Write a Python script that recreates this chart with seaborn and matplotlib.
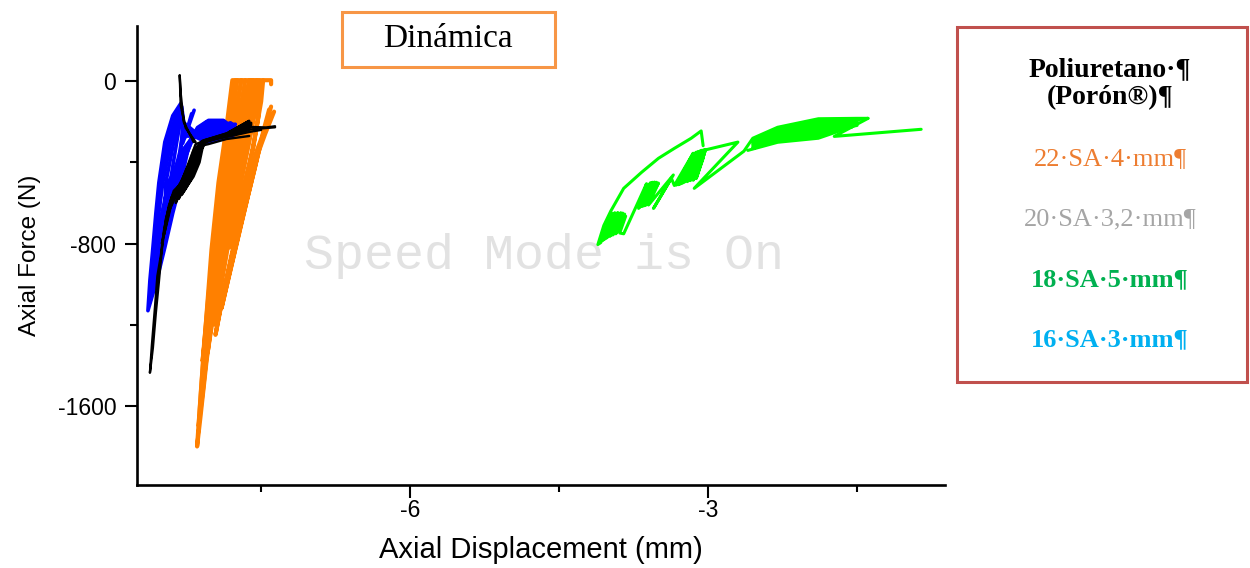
import matplotlib
matplotlib.use("Agg")
import matplotlib.pyplot as plt
from matplotlib.patches import Rectangle
import pandas as pd
import seaborn as sns

# ---------------- data ----------------
# each series = list of traced load/unload paths, each path = list of (displacement mm, force N)
series_labels = ["22·SA·4·mm¶", "20·SA·3,2·mm¶", "18·SA·5·mm¶", "16·SA·3·mm¶"]

orange_paths = [
    [(-7.40, -15), (-7.40, 5), (-7.79, 5), (-7.85, -230), (-7.93, -500), (-8.00, -830), (-8.05, -1150), (-8.10, -1480),
     (-8.145, -1800), (-8.11, -1650), (-8.05, -1380), (-7.97, -1080), (-7.88, -780), (-7.78, -500), (-7.68, -250), (-7.62, -60), (-7.60, 5)],
    [(-7.74, 5), (-7.83, -280), (-7.92, -580), (-8.00, -920), (-8.07, -1280), (-8.13, -1700), (-8.08, -1500), (-8.02, -1200),
     (-7.94, -900), (-7.85, -600), (-7.75, -320), (-7.66, -100), (-7.62, 5)],
    [(-7.70, 5), (-7.80, -260), (-7.89, -560), (-7.97, -880), (-8.04, -1200), (-8.10, -1580), (-8.05, -1360), (-7.98, -1060),
     (-7.90, -760), (-7.80, -460), (-7.70, -200), (-7.64, -40), (-7.60, 5)],
    [(-7.66, 5), (-7.75, -250), (-7.85, -560), (-7.94, -880), (-8.02, -1220), (-8.07, -1440), (-8.01, -1220), (-7.93, -920),
     (-7.84, -640), (-7.73, -350), (-7.64, -130), (-7.58, 5)],
    [(-7.62, 5), (-7.70, -220), (-7.80, -500), (-7.90, -820), (-7.99, -1150), (-8.04, -1340), (-7.98, -1150), (-7.89, -860),
     (-7.79, -580), (-7.68, -320), (-7.60, -120), (-7.55, 5)],
    [(-7.58, 5), (-7.60, -150), (-7.66, -330), (-7.76, -580), (-7.87, -880), (-7.97, -1200), (-7.92, -1060), (-7.83, -800),
     (-7.72, -540), (-7.62, -300), (-7.56, -150), (-7.54, 5)],
    [(-7.37, -150), (-7.46, -260), (-7.58, -420), (-7.72, -700), (-7.86, -1000), (-7.96, -1250), (-7.91, -1120), (-7.80, -860),
     (-7.67, -580), (-7.55, -350), (-7.45, -220), (-7.39, -160)],
    [(-7.40, -125), (-7.50, -300), (-7.63, -560), (-7.77, -850), (-7.90, -1120), (-7.82, -950), (-7.70, -700), (-7.57, -440),
     (-7.48, -250), (-7.42, -140)],
    [(-7.52, 5), (-7.53, -180), (-7.58, -330), (-7.70, -560), (-7.82, -820), (-7.74, -680), (-7.62, -420), (-7.55, -240),
     (-7.50, -100), (-7.48, 5)],
    [(-7.76, 5), (-7.84, -300), (-7.95, -700), (-8.03, -1050), (-8.09, -1380), (-8.04, -1150), (-7.96, -850), (-7.87, -550),
     (-7.79, -300), (-7.72, -60), (-7.70, 5)],
]

blue_paths = [
    [(-7.73, -250), (-7.88, -193), (-8.03, -193), (-8.14, -228), (-8.22, -300), (-8.31, -500), (-8.39, -650), (-8.47, -820),
     (-8.55, -980), (-8.64, -1131), (-8.62, -980), (-8.59, -820), (-8.56, -650), (-8.53, -500), (-8.47, -300), (-8.39, -170),
     (-8.31, -110), (-8.27, -250), (-8.05, -300), (-7.83, -278), (-7.73, -252)],
    [(-7.75, -235), (-7.90, -200), (-8.05, -200), (-8.15, -240), (-8.24, -320), (-8.34, -500), (-8.42, -650), (-8.50, -820),
     (-8.57, -980), (-8.62, -1090), (-8.60, -980), (-8.575, -820), (-8.545, -650), (-8.51, -500), (-8.44, -300), (-8.36, -170),
     (-8.30, -125), (-8.27, -240), (-8.05, -292), (-7.85, -270), (-7.75, -245)],
    [(-7.76, -225), (-7.92, -208), (-8.07, -210), (-8.16, -250), (-8.26, -330), (-8.36, -500), (-8.45, -650), (-8.53, -820),
     (-8.60, -1040), (-8.58, -930), (-8.56, -820), (-8.53, -650), (-8.49, -500), (-8.41, -300), (-8.34, -170), (-8.30, -140),
     (-8.28, -230), (-8.07, -285), (-7.87, -262), (-7.76, -238)],
    [(-7.78, -218), (-7.93, -215), (-8.09, -220), (-8.17, -262), (-8.29, -340), (-8.43, -500), (-8.50, -650), (-8.56, -820),
     (-8.59, -980), (-8.57, -880), (-8.52, -760), (-8.47, -650), (-8.46, -500), (-8.38, -300), (-8.32, -170), (-8.28, -260),
     (-8.09, -278), (-7.88, -255), (-7.78, -232)],
    [(-7.79, -212), (-7.95, -222), (-8.10, -230), (-8.18, -275), (-8.28, -350), (-8.38, -500), (-8.46, -650), (-8.52, -800),
     (-8.57, -930), (-8.54, -840), (-8.50, -720), (-8.44, -600), (-8.41, -480), (-8.35, -300), (-8.31, -190), (-8.27, -270),
     (-8.10, -272), (-7.90, -248), (-7.79, -228)],
    [(-7.80, -208), (-7.96, -230), (-8.12, -240), (-8.19, -285), (-8.27, -380), (-8.35, -520), (-8.43, -660), (-8.50, -780),
     (-8.54, -860), (-8.51, -760), (-8.46, -640), (-8.40, -520), (-8.33, -420), (-8.30, -300), (-8.29, -200), (-8.13, -265),
     (-7.92, -242), (-7.80, -222)],
    [(-7.81, -205), (-7.98, -238), (-8.13, -250), (-8.20, -295), (-8.30, -420), (-8.40, -560), (-8.48, -700), (-8.45, -620),
     (-8.40, -540), (-8.37, -450), (-8.32, -350), (-8.28, -220), (-8.15, -258), (-7.95, -236), (-7.82, -218)],
    [(-8.14, -232), (-7.76, -212), (-8.12, -250), (-7.74, -232), (-8.10, -268), (-7.74, -250), (-8.08, -286), (-7.78, -262),
     (-8.05, -300), (-7.84, -275)],
    [(-8.175, -143), (-8.29, -306)],
    [(-8.20, -160), (-8.27, -280)],
]

black_paths = [
    [(-7.36, -227), (-7.62, -238), (-7.88, -265), (-8.08, -292), (-8.20, -380), (-8.31, -500), (-8.40, -570), (-8.46, -680),
     (-8.50, -830), (-8.53, -990), (-8.56, -1140), (-8.59, -1313), (-8.62, -1437), (-8.60, -1300), (-8.57, -1120), (-8.545, -960),
     (-8.51, -860), (-8.48, -740), (-8.43, -615), (-8.38, -540), (-8.31, -505), (-8.24, -415), (-8.16, -310), (-8.02, -285),
     (-7.85, -260), (-7.62, -230)],
    [(-8.16, -300), (-8.26, -230), (-8.31, -120), (-8.32, 30), (-8.31, -60), (-8.28, -200), (-8.18, -300)],
    [(-7.80, -250), (-8.06, -290), (-8.14, -320), (-8.22, -420), (-8.28, -500), (-8.36, -560), (-8.43, -640), (-8.48, -760),
     (-8.45, -700), (-8.40, -600), (-8.33, -540), (-8.27, -505), (-8.21, -430), (-8.13, -330), (-8.04, -295), (-7.85, -268),
     (-7.62, -240)],
    [(-7.84, -256), (-8.09, -293), (-8.18, -340), (-8.25, -440), (-8.30, -510), (-8.39, -580), (-8.45, -680), (-8.50, -800),
     (-8.47, -740), (-8.42, -630), (-8.35, -560), (-8.29, -520), (-8.24, -470), (-8.17, -370), (-8.11, -310), (-7.90, -275),
     (-7.65, -245)],
    [(-7.86, -262), (-8.11, -300), (-8.19, -380), (-8.26, -480), (-8.33, -520), (-8.41, -600), (-8.38, -560), (-8.29, -480),
     (-8.22, -400), (-8.15, -330), (-8.09, -297), (-7.88, -270), (-7.66, -238)],
    [(-8.05, -290), (-8.09, -330), (-8.12, -400), (-8.18, -470), (-8.24, -514), (-8.30, -560), (-8.26, -530), (-8.20, -480),
     (-8.15, -420), (-8.11, -350), (-8.07, -300)],
    [(-8.08, -295), (-8.12, -350), (-8.17, -420), (-8.22, -480), (-8.28, -530), (-8.33, -580), (-8.29, -540), (-8.24, -500),
     (-8.19, -440), (-8.14, -370), (-8.10, -310)],
    [(-8.10, -300), (-8.15, -360), (-8.20, -430), (-8.26, -490), (-8.31, -520), (-8.36, -600), (-8.31, -550), (-8.27, -510),
     (-8.22, -460), (-8.17, -390), (-8.12, -320), (-8.03, -310), (-7.85, -285), (-7.62, -270)],
    [(-7.88, -272), (-7.62, -200), (-7.86, -262), (-7.60, -210), (-7.84, -255), (-7.62, -195), (-7.82, -250), (-7.60, -215),
     (-7.80, -245), (-7.60, -205), (-7.75, -235), (-7.62, -225), (-7.45, -228), (-7.36, -222)],
    [(-8.10, -300), (-7.95, -285), (-7.80, -270), (-7.62, -250), (-7.50, -240)],
]

green_paths = [
    [(-3.05, -318), (-3.07, -245), (-3.17, -281), (-3.34, -331), (-3.50, -380), (-3.67, -449), (-3.85, -528), (-3.98, -640),
     (-4.05, -711), (-4.11, -805),
     (-4.08, -795), (-3.97, -650), (-4.06, -785), (-3.94, -648), (-4.04, -778), (-3.91, -647), (-4.02, -772), (-3.88, -648),
     (-3.99, -765), (-3.86, -650), (-3.96, -758), (-3.84, -655), (-3.93, -752), (-3.83, -665), (-3.89, -748), (-3.85, -752),
     (-3.62, -505),
     (-3.70, -627), (-3.58, -500), (-3.69, -622), (-3.56, -498), (-3.67, -618), (-3.54, -497), (-3.65, -615), (-3.52, -498),
     (-3.63, -612), (-3.50, -502), (-3.60, -610),
     (-3.35, -462), (-3.55, -627), (-3.37, -478), (-3.34, -514),
     (-3.15, -355), (-3.32, -512), (-3.12, -350), (-3.30, -510), (-3.10, -346), (-3.28, -507), (-3.08, -343), (-3.26, -503),
     (-3.06, -340), (-3.24, -498), (-3.04, -338), (-3.21, -495), (-3.03, -338), (-3.18, -490), (-3.03, -345),
     (-3.15, -488), (-3.04, -360), (-3.12, -480), (-3.05, -380), (-3.04, -340),
     (-2.70, -300), (-3.14, -528), (-2.64, -345),
     (-2.55, -281), (-2.30, -227), (-1.89, -185), (-1.50, -183), (-1.39, -183),
     (-1.50, -190), (-1.89, -199), (-2.30, -238), (-2.55, -290),
     (-2.55, -298), (-2.30, -248), (-1.89, -212), (-1.50, -197),
     (-1.50, -204), (-1.89, -226), (-2.30, -259), (-2.55, -307),
     (-2.55, -315), (-2.30, -269), (-1.89, -240), (-1.50, -211),
     (-1.50, -218), (-1.89, -254), (-2.30, -280), (-2.55, -324),
     (-2.55, -332), (-2.30, -290), (-1.89, -267), (-1.55, -225),
     (-1.60, -232), (-1.89, -281), (-2.30, -301), (-2.60, -341)],
    [(-1.39, -183), (-1.73, -272), (-0.855, -237)],
]

x_major = [-6, -3]
x_minor = [-7.5, -4.5, -1.5]
y_major = [0, -800, -1600]
y_minor = [-400, -1200]


def to_frame(paths):
    rows = []
    for u, path in enumerate(paths):
        for i, (xv, yv) in enumerate(path):
            rows.append({"unit": u, "step": i, "disp": xv, "force": yv})
    return pd.DataFrame(rows)


# ---------------- style ----------------
sns.set_theme(style="ticks")
plt.rcParams['font.family'] = ['Liberation Sans', 'DejaVu Sans']
plt.rcParams['axes.unicode_minus'] = False

fig = plt.figure(figsize=(12.5, 5.68), dpi=100)
ax = fig.add_axes([0.1096, 0.1461, 0.7560 - 0.1096, 0.9542 - 0.1461])
ax.set_facecolor('none')

# watermark
ax.text(0.435, 0.549, "Speed Mode is On", transform=fig.transFigure,
        ha='center', va='center', fontsize=36, color='#e2e2e2',
        family=['Liberation Mono', 'DejaVu Sans Mono'], zorder=0.5)

for paths, color, lw, z in [(orange_paths, '#FF8000', 3.0, 2),
                            (green_paths, '#00FF00', 2.2, 2),
                            (blue_paths, '#0000FF', 2.6, 3),
                            (black_paths, '#000000', 1.7, 4)]:
    df = to_frame(paths)
    sns.lineplot(data=df, x="disp", y="force", units="unit", estimator=None, sort=False,
                 color=color, lw=lw, ax=ax, zorder=z, solid_joinstyle='round')

ax.set_xlim(-8.75, -0.615)
ax.set_ylim(-1990, 272)
ax.set_xticks(x_major)
ax.set_xticks(x_minor, minor=True)
ax.set_yticks(y_major)
ax.set_yticks(y_minor, minor=True)
ax.set_xticklabels([str(v) for v in x_major])
ax.set_yticklabels([str(v) for v in y_major])

for s in ['top', 'right']:
    ax.spines[s].set_visible(False)
for s in ['left', 'bottom']:
    ax.spines[s].set_color('black')
    ax.spines[s].set_linewidth(1.9)

ax.tick_params(which='major', length=9, width=1.5, color='black', labelsize=16.5, labelcolor='black', direction='out')
ax.tick_params(which='minor', length=4.7, width=1.5, color='black', direction='out')
ax.tick_params(axis='y', which='major', pad=6)
ax.tick_params(axis='x', which='major', pad=1)

ax.set_xlabel("Axial Displacement (mm)", fontsize=21, color='black', labelpad=10)
ax.set_ylabel("Axial Force (N)", fontsize=17.5, color='black', labelpad=12)

serif = ['Liberation Serif', 'DejaVu Serif']

# title box
fig.add_artist(Rectangle((0.2736, 0.882), 0.1704, 0.0968, transform=fig.transFigure,
                         fill=False, edgecolor='#F79646', lw=2.2))
fig.text(0.3584, 0.9313, "Dinámica", ha='center', va='center', fontsize=24,
         family=serif, color='black')

# legend box
fig.add_artist(Rectangle((0.7656, 0.3275), 0.232, 0.625, transform=fig.transFigure,
                         fill=False, edgecolor='#C0504D', lw=2.2))
cx = 0.888
fig.text(cx, 0.8768, "Poliuretano·¶", ha='center', va='center', fontsize=20, fontweight='bold', family=serif, color='black')
fig.text(cx, 0.8275, "(Porón®)¶", ha='center', va='center', fontsize=20, fontweight='bold', family=serif, color='black')
leg_colors = ['#ED7D31', '#A5A5A5', '#00B050', '#00B0F0']
leg_weights = ['normal', 'normal', 'bold', 'bold']
leg_y = [0.7201, 0.6144, 0.5070, 0.4014]
for lab, c, w, yy in zip(series_labels, leg_colors, leg_weights, leg_y):
    fig.text(cx, yy, lab, ha='center', va='center', fontsize=19, fontweight=w, family=serif, color=c)

fig.savefig("out.png", dpi=100)
